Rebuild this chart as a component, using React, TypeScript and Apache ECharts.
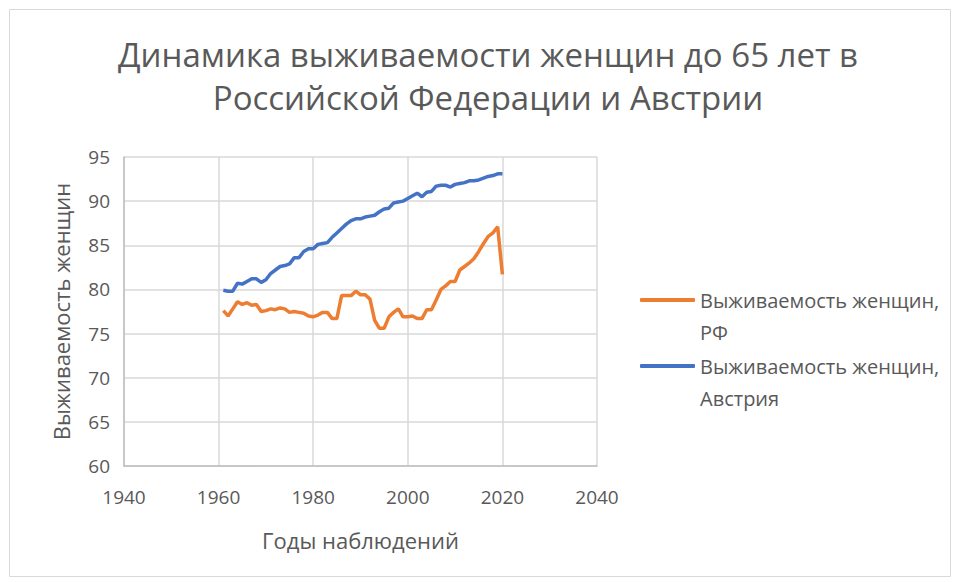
import React, { useEffect, useRef } from "react";
import * as echarts from "echarts";

const years: number[] = [];
for (let y = 1961; y <= 2020; y++) years.push(y);

const russia = [
  77.6, 77.0, 77.8, 78.6, 78.3, 78.5, 78.2, 78.3, 77.5, 77.6,
  77.8, 77.7, 77.9, 77.8, 77.4, 77.5, 77.4, 77.3, 77.0, 76.9,
  77.1, 77.4, 77.4, 76.7, 76.7, 79.3, 79.3, 79.3, 79.8, 79.4,
  79.4, 78.9, 76.5, 75.6, 75.6, 76.9, 77.4, 77.8, 76.9, 76.9,
  77.0, 76.7, 76.7, 77.7, 77.7, 78.8, 80.0, 80.4, 80.9, 80.9,
  82.2, 82.6, 83.0, 83.5, 84.3, 85.2, 86.0, 86.4, 87.1, 81.7,
];

const austria = [
  79.9, 79.8, 79.8, 80.7, 80.6, 80.9, 81.2, 81.2, 80.8, 81.1,
  81.8, 82.2, 82.6, 82.7, 82.9, 83.6, 83.6, 84.3, 84.6, 84.6,
  85.1, 85.2, 85.3, 85.9, 86.4, 86.9, 87.4, 87.8, 88.0, 88.0,
  88.2, 88.3, 88.4, 88.8, 89.1, 89.2, 89.8, 89.9, 90.0, 90.3,
  90.6, 90.9, 90.5, 91.0, 91.1, 91.7, 91.8, 91.8, 91.6, 91.9,
  92.0, 92.1, 92.3, 92.3, 92.4, 92.6, 92.8, 92.9, 93.1, 93.1,
];

const seriesNames = ["Выживаемость женщин, РФ", "Выживаемость женщин, Австрия"];
const legendLabels = ["Выживаемость женщин,\nРФ", "Выживаемость женщин,\nАвстрия"];
const titleText = "Динамика выживаемости женщин до 65 лет в\nРоссийской Федерации и Австрии";
const xAxisName = "Годы наблюдений";
const yAxisName = "Выживаемость женщин";
const colors = ["#ED7D31", "#4472C4"];

const FONT = "'Open Sans', sans-serif";
const GREY = "#595959";

export default function App() {
  const ref = useRef<HTMLDivElement>(null);
  useEffect(() => {
    if (!ref.current) return;
    const chart = echarts.init(ref.current, undefined, { renderer: "svg" });
    const legendCommon = (i: number, top: number) => ({
      data: [{ name: seriesNames[i], icon: "roundRect", itemStyle: { color: colors[i] } }],
      left: 640,
      top,
      orient: "vertical",
      padding: 0,
      itemWidth: 55,
      itemHeight: 4,
      formatter: () => "\u00a0\n" + legendLabels[i],
      textStyle: {
        fontFamily: FONT,
        fontSize: 20,
        color: GREY,
        lineHeight: 32,
      },
    });
    chart.setOption({
      animation: false,
      backgroundColor: "#ffffff",
      title: {
        text: titleText,
        left: 488,
        top: 33,
        padding: 0,
        textAlign: "center",
        textStyle: {
          fontFamily: FONT,
          fontSize: 33,
          fontWeight: "normal",
          color: GREY,
          lineHeight: 43,
        },
      },
      legend: [legendCommon(0, 252), legendCommon(1, 318)],
      grid: { left: 124, right: 363, top: 157, bottom: 116 },
      xAxis: {
        type: "value",
        min: 1940,
        max: 2040,
        interval: 20,
        name: xAxisName,
        nameLocation: "middle",
        nameGap: 63,
        nameTextStyle: { fontFamily: FONT, fontSize: 22, color: GREY },
        axisLine: { show: true, lineStyle: { color: "#bfbfbf", width: 1.5 } },
        axisTick: { show: false },
        axisLabel: {
          fontFamily: FONT,
          fontSize: 19,
          color: GREY,
          margin: 21,
          formatter: (v: number) => String(v),
        },
        splitLine: { show: true, lineStyle: { color: "#d9d9d9", width: 1.5 } },
      },
      yAxis: {
        type: "value",
        min: 60,
        max: 95,
        interval: 5,
        name: yAxisName,
        nameLocation: "middle",
        nameGap: 52,
        nameTextStyle: { fontFamily: FONT, fontSize: 22, color: GREY },
        axisLine: { show: true, lineStyle: { color: "#bfbfbf", width: 1.5 } },
        axisTick: { show: false },
        axisLabel: { fontFamily: FONT, fontSize: 19, color: GREY, margin: 14 },
        splitLine: { show: true, lineStyle: { color: "#d9d9d9", width: 1.5 } },
      },
      graphic: [
        {
          type: "rect",
          shape: { x: 9.5, y: 9.5, width: 941, height: 567 },
          style: { fill: "none", stroke: "#d9d9d9", lineWidth: 1 },
          silent: true,
        },
      ],
      series: [
        {
          name: seriesNames[0],
          type: "line",
          data: years.map((y, i) => [y, russia[i]]),
          symbol: "none",
          lineStyle: { color: colors[0], width: 3.5 },
          itemStyle: { color: colors[0] },
        },
        {
          name: seriesNames[1],
          type: "line",
          data: years.map((y, i) => [y, austria[i]]),
          symbol: "none",
          lineStyle: { color: colors[1], width: 3.5 },
          itemStyle: { color: colors[1] },
        },
      ],
    });
    return () => chart.dispose();
  }, []);
  return (
    <div
      ref={ref}
      style={{ position: "fixed", left: 0, top: 0, width: 960, height: 582, background: "#fff" }}
    />
  );
}
